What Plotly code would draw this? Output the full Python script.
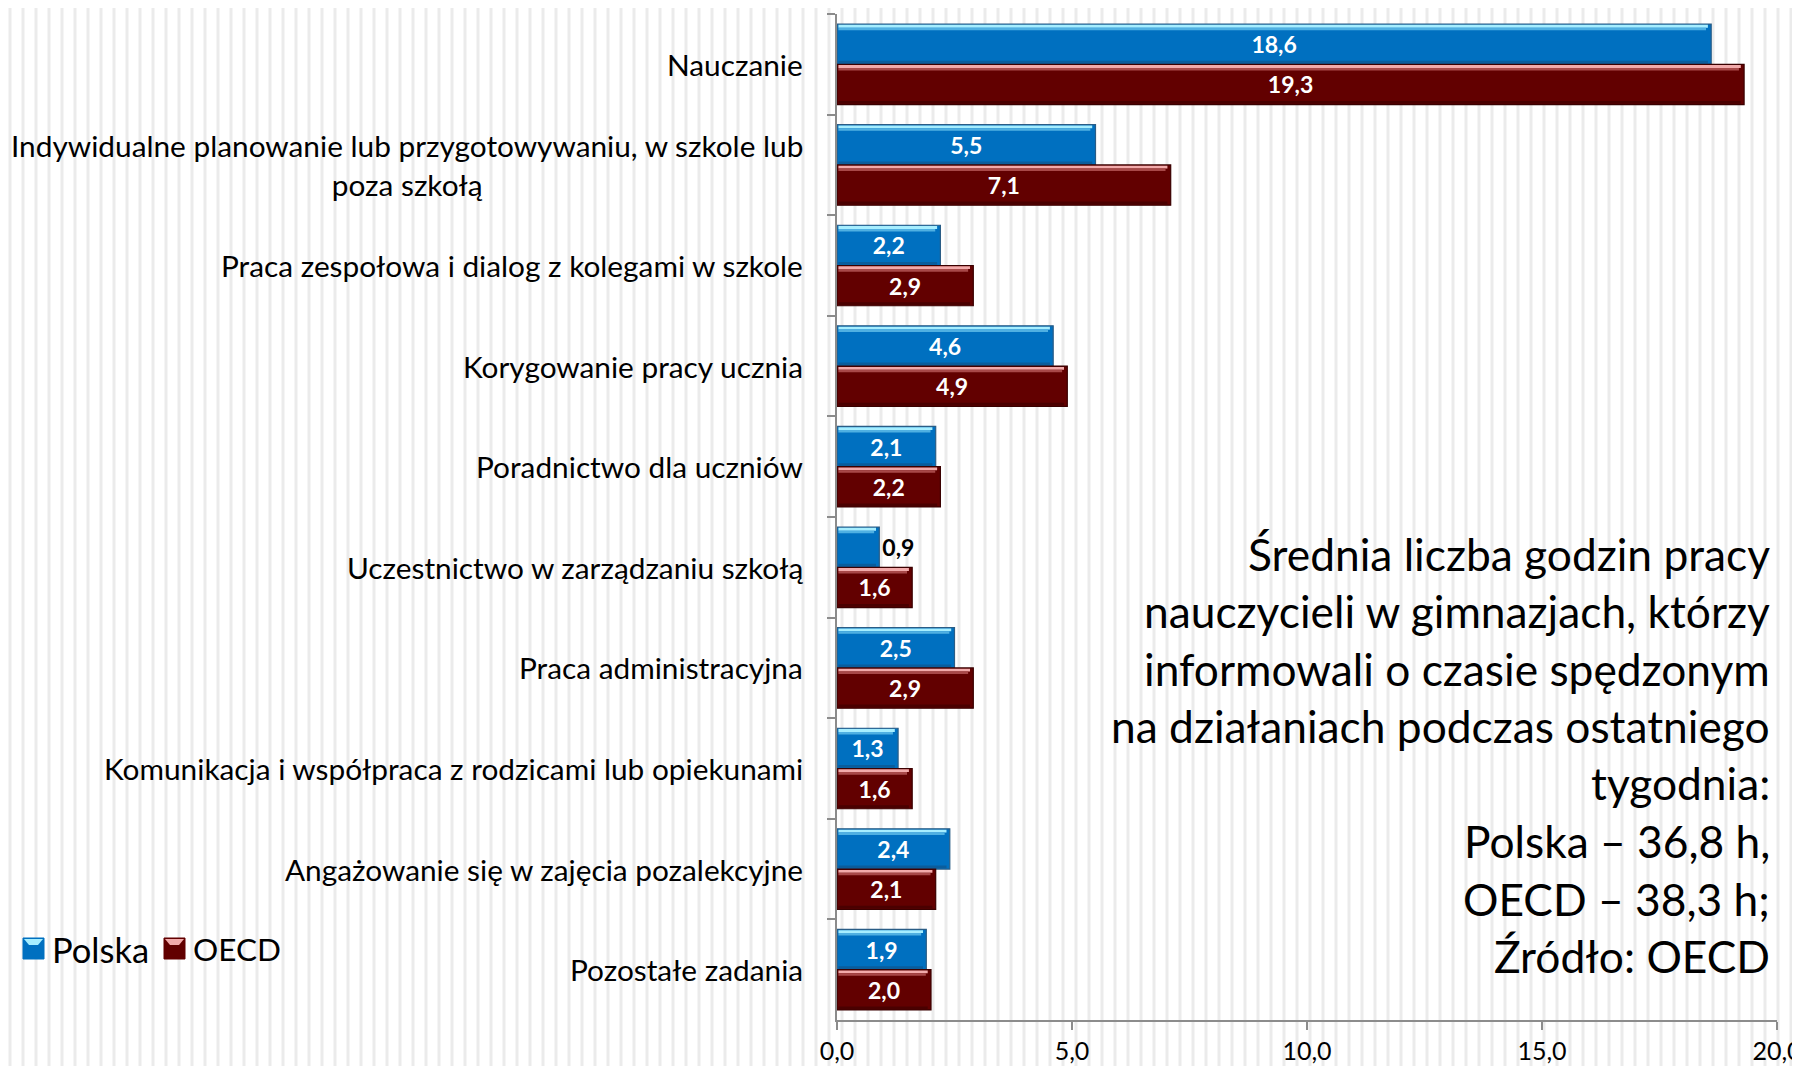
import plotly.graph_objects as go

categories = [
    "Nauczanie",
    "Indywidualne planowanie lub przygotowywaniu, w szkole lub<br>poza szkołą",
    "Praca zespołowa i dialog z kolegami w szkole",
    "Korygowanie pracy ucznia",
    "Poradnictwo dla uczniów",
    "Uczestnictwo w zarządzaniu szkołą",
    "Praca administracyjna",
    "Komunikacja i współpraca z rodzicami lub opiekunami",
    "Angażowanie się w zajęcia pozalekcyjne",
    "Pozostałe zadania",
]
polska = [18.6, 5.5, 2.2, 4.6, 2.1, 0.9, 2.5, 1.3, 2.4, 1.9]
oecd = [19.3, 7.1, 2.9, 4.9, 2.2, 1.6, 2.9, 1.6, 2.1, 2.0]
x_ticks = [0, 5, 10, 15, 20]
note_lines = [
    "Średnia liczba godzin pracy",
    "nauczycieli w gimnazjach, którzy",
    "informowali o czasie spędzonym",
    "na działaniach podczas ostatniego",
    "tygodnia:",
    "Polska – 36,8 h,",
    "OECD – 38,3 h;",
    "Źródło: OECD",
]

FONT = "Lato"
W, H = 1800, 1066
L, R, T, B = 829, 31, 6, 54
PW, PH = W - L - R, H - T - B
BAR_W = 0.4


def fmt(v):
    return f"{v:.1f}".replace(".", ",")


def strip(vals, color, offset, width, trim):
    return go.Bar(
        y=categories, x=[v - trim for v in vals], base=0.03, orientation="h",
        width=width, offset=offset,
        marker=dict(color=color, line=dict(width=0)),
        hoverinfo="skip", showlegend=False,
    )


def series(name, vals, color, edge, light, mid, dark, offset):
    pos = ["inside" if v >= 1.2 else "outside" for v in vals]
    tcol = ["white" if v >= 1.2 else "black" for v in vals]
    main = go.Bar(
        name=name, y=categories, x=vals, orientation="h",
        width=BAR_W, offset=offset,
        marker=dict(color=color, line=dict(color=edge, width=1.2)),
        text=[fmt(v) for v in vals], textposition=pos,
        insidetextanchor="middle", constraintext="none",
        textfont=dict(family=FONT, size=23, color=tcol, weight="bold"),
        cliponaxis=False, showlegend=False,
    )
    # bevel look: light edge on top, darker edge at the bottom
    return [
        main,
        strip(vals, light, offset + 0.008, 0.028, 0.1),
        strip(vals, mid, offset + 0.036, 0.025, 0.14),
        strip(vals, dark, offset + BAR_W - 0.035, 0.027, 0.1),
    ]


fig = go.Figure()
for tr in series("Polska", polska, "#0070C0", "#2a5d86",
                 "#a6eeff", "#4fb0e2", "#0a5d9c", -BAR_W):
    fig.add_trace(tr)
for tr in series("OECD", oecd, "#620000", "#3a0000",
                 "#f2aaaa", "#a84848", "#4a0000", 0):
    fig.add_trace(tr)

# striped background
shapes = []
px = 2
while px < W:
    xp = (px - L) / PW
    shapes.append(dict(type="line", xref="paper", yref="paper", layer="below",
                       x0=xp, x1=xp, y0=-B / PH, y1=1 + T / PH,
                       line=dict(color="#ebebeb", width=3)))
    px += 13

annotations = []
for c in categories:
    annotations.append(dict(
        x=-32 / PW, xref="paper", y=c, yref="y", xanchor="right", yanchor="middle",
        text=c, align="center", showarrow=False,
        font=dict(family=FONT, size=29.8, color="black")))

top_px = 545
for i, line in enumerate(note_lines):
    ypx = top_px + i * 57.5
    annotations.append(dict(
        x=1 - 5 / PW, xref="paper", y=(H - B - ypx) / PH, yref="paper",
        xanchor="right", yanchor="middle", text=line, showarrow=False,
        font=dict(family=FONT, size=44.3, color="black")))

# legend drawn by hand so the swatches can be as large as in the reference
legend_items = [("Polska", "#0070C0", "#a6eeff", 15, 34.5),
                ("OECD", "#620000", "#f2aaaa", 156, 31.5)]
LEG_Y = 941
for name, color, light, x0, fs in legend_items:
    shapes.append(dict(type="rect", xref="paper", yref="paper",
                       x0=(x0 - L) / PW, x1=(x0 + 21 - L) / PW,
                       y0=(H - B - LEG_Y - 10) / PH, y1=(H - B - LEG_Y + 11) / PH,
                       fillcolor=color, line=dict(color=color, width=1)))
    shapes.append(dict(type="path", xref="paper", yref="paper",
                       path="M {a},{b} L {c},{b} L {d},{e} L {f},{e} Z".format(
                           a=(x0 + 1 - L) / PW, c=(x0 + 20 - L) / PW,
                           d=(x0 + 15 - L) / PW, f=(x0 + 6 - L) / PW,
                           b=(H - B - LEG_Y + 10) / PH, e=(H - B - LEG_Y + 4) / PH),
                       fillcolor=light, line=dict(width=0)))
    annotations.append(dict(
        x=(x0 + 27 - L) / PW, xref="paper", y=(H - B - LEG_Y) / PH, yref="paper",
        xanchor="left", yanchor="middle", text=name, showarrow=False,
        font=dict(family=FONT, size=fs, color="black")))

fig.update_layout(
    width=W, height=H,
    margin=dict(l=L, r=R, t=T, b=B),
    paper_bgcolor="white", plot_bgcolor="rgba(0,0,0,0)",
    barmode="overlay",
    separators=", ",
    shapes=shapes, annotations=annotations,
    showlegend=False,
    font=dict(family=FONT),
)
fig.update_xaxes(
    range=[0, 20], tickvals=x_ticks, tickformat=".1f",
    showgrid=False, zeroline=False,
    showline=True, linecolor="#8c8c8c", linewidth=2,
    ticks="outside", ticklen=8, tickcolor="#8c8c8c", tickwidth=2,
    tickfont=dict(family=FONT, size=25, color="black"),
)
fig.update_yaxes(
    autorange="reversed", showticklabels=False, showgrid=False,
    showline=True, linecolor="#8c8c8c", linewidth=2,
    ticks="outside", tickson="boundaries", ticklen=8,
    tickcolor="#8c8c8c", tickwidth=2,
)

fig.write_html("out.html")
